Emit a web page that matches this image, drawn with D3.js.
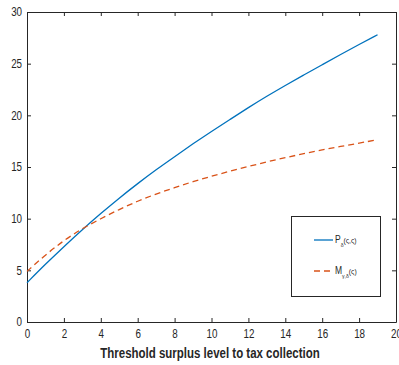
<!DOCTYPE html>
<meta charset="utf-8">
<title>Threshold surplus</title>
<style>
body { margin: 0; background: #fff; }
svg { font-family: "Liberation Sans", Arial, sans-serif; }
.axis path, .axis line { stroke: #262626; }
.axis text { fill: #262626; font-size: 12px; }
</style>
<body>
<script src="https://cdn.jsdelivr.net/npm/d3@7"></script>
<script>

var xs = [0, 1, 2, 3, 4, 5, 6, 7, 8, 9, 10, 11, 12, 13, 14, 15, 16, 17, 18, 19];
var pValues = [3.8, 5.6, 7.3, 8.95, 10.5, 12.0, 13.4, 14.75, 16.0, 17.25, 18.45, 19.6, 20.75, 21.85, 22.9, 23.9, 24.9, 25.9, 26.85, 27.8];
var mValues = [4.9, 6.5, 7.9, 9.05, 10.0, 10.9, 11.7, 12.4, 13.0, 13.6, 14.1, 14.6, 15.05, 15.5, 15.9, 16.3, 16.65, 17.0, 17.3, 17.65];
var xTicks = [0, 2, 4, 6, 8, 10, 12, 14, 16, 18, 20];
var yTicks = [0, 5, 10, 15, 20, 25, 30];

var plot = {left: 27, right: 396, top: 12, bottom: 322};

var svg = d3.select("body").append("svg")
    .attr("width", 399)
    .attr("height", 365);

var x = d3.scaleLinear().domain([0, 20]).range([plot.left, plot.right]);
var y = d3.scaleLinear().domain([0, 30]).range([plot.bottom, plot.top]);

// narrow the Helvetica-like labels a little
function narrow(g) {
  g.selectAll("text").attr("transform", "scale(0.82,1)");
}

// box with inward ticks on all four sides
svg.append("g").attr("class", "axis")
    .attr("transform", "translate(0," + plot.bottom + ")")
    .call(d3.axisBottom(x).tickValues(xTicks).tickSizeInner(-4).tickSizeOuter(0).tickPadding(7))
    .call(narrow);

svg.append("g").attr("class", "axis")
    .attr("transform", "translate(0," + plot.top + ")")
    .call(d3.axisTop(x).tickValues(xTicks).tickSizeInner(-4).tickSizeOuter(0).tickFormat(""));

svg.append("g").attr("class", "axis")
    .attr("transform", "translate(" + plot.left + ",0)")
    .call(d3.axisLeft(y).tickValues(yTicks).tickSizeInner(-4).tickSizeOuter(0).tickPadding(6))
    .call(narrow);

svg.append("g").attr("class", "axis")
    .attr("transform", "translate(" + plot.right + ",0)")
    .call(d3.axisRight(y).tickValues(yTicks).tickSizeInner(-4).tickSizeOuter(0).tickFormat(""));

var line = d3.line()
    .x(function(d) { return x(d[0]); })
    .y(function(d) { return y(d[1]); })
    .curve(d3.curveBasis);

svg.append("path")
    .datum(xs.map(function(v, i) { return [v, pValues[i]]; }))
    .attr("fill", "none")
    .attr("stroke", "#0072bd")
    .attr("stroke-width", 1.3)
    .attr("d", line);

svg.append("path")
    .datum(xs.map(function(v, i) { return [v, mValues[i]]; }))
    .attr("fill", "none")
    .attr("stroke", "#d95319")
    .attr("stroke-width", 1.3)
    .attr("stroke-dasharray", "6,4")
    .attr("d", line);

svg.append("text")
    .attr("transform", "translate(210,358) scale(0.82,1)")
    .attr("text-anchor", "middle")
    .attr("font-size", "14px")
    .attr("font-weight", "bold")
    .attr("fill", "#262626")
    .text("Threshold surplus level to tax collection");

// legend
var legend = svg.append("g");
legend.append("rect")
    .attr("x", 291.5).attr("y", 216.5)
    .attr("width", 89).attr("height", 80)
    .attr("fill", "#fff")
    .attr("stroke", "#262626")
    .attr("stroke-width", 1);

legend.append("line")
    .attr("x1", 314).attr("x2", 333).attr("y1", 240).attr("y2", 240)
    .attr("stroke", "#0072bd").attr("stroke-width", 1.3);
legend.append("line")
    .attr("x1", 314).attr("x2", 333).attr("y1", 271).attr("y2", 271)
    .attr("stroke", "#d95319").attr("stroke-width", 1.3)
    .attr("stroke-dasharray", "6,4");

var t1 = legend.append("text").attr("transform", "translate(335,243) scale(0.85,1)")
    .attr("font-size", "10px").attr("fill", "#262626");
t1.append("tspan").text("P");
t1.append("tspan").attr("dy", 4).attr("font-size", "6px").text("δ");
t1.append("tspan").attr("dy", -4).attr("font-size", "8px").text("(ς,ς)");

var t2 = legend.append("text").attr("transform", "translate(335,274) scale(0.85,1)")
    .attr("font-size", "10px").attr("fill", "#262626");
t2.append("tspan").text("M");
t2.append("tspan").attr("dy", 4).attr("font-size", "6px").text("γ,δ");
t2.append("tspan").attr("dy", -4).attr("font-size", "8px").text("(ς)");

</script>
</body>
